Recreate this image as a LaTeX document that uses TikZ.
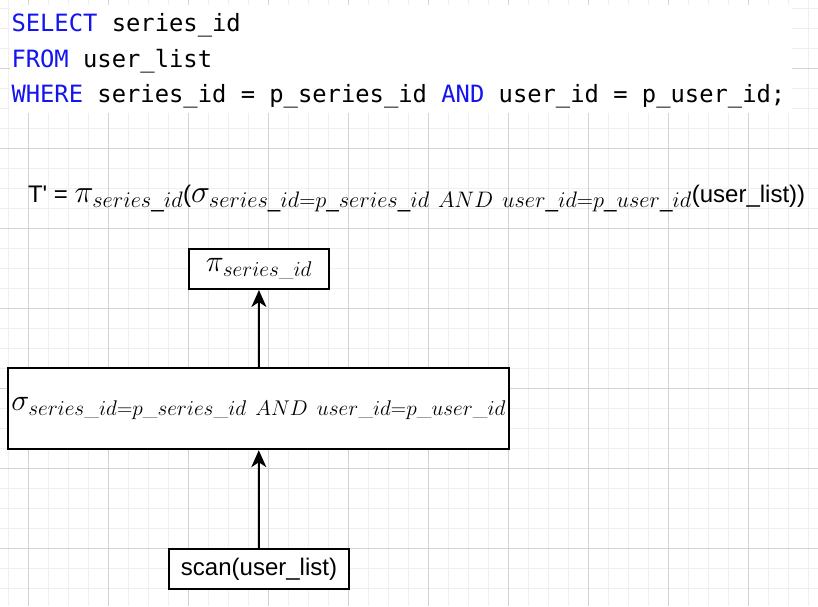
\RequirePackage{fix-cm}
\documentclass[tikz,border=0pt]{standalone}
\usepackage{amsmath}
\usepackage{fontspec}
\setmonofont{DejaVu Sans Mono}
\newfontfamily\helv{Liberation Sans}
\usetikzlibrary{arrows.meta}
\tikzset{
	opbox/.style={draw, fill=white, inner sep=0, minimum height=40pt},
	codeline/.style={anchor=base west, inner sep=0, font=\ttfamily\fontsize{23.8}{28}\selectfont},
	gridminor/.style={-, line width=1pt, draw=gridMinor},
	gridmajor/.style={-, line width=1pt, draw=gridMajor}
}
\definecolor{kwColor}{HTML}{1414F0}
\definecolor{gridMinor}{HTML}{EFEFEF}
\definecolor{gridMajor}{HTML}{D3D3D3}
\newcommand{\kw}[1]{\textcolor{kwColor}{#1}}
\newcommand{\mth}[2][30.4]{{\fontsize{#1}{36}\selectfont$#2$}}
\newcommand{\sid}{series\_id}
\newcommand{\uid}{user\_id}
\newcommand{\selcond}{\sid=p\_\sid\ AND\ \uid=p\_\uid}

\begin{document}
\begin{tikzpicture}[->,>={Stealth[length=17pt,width=15pt,inset=5pt]},x=1pt,y=-1pt,
					line width=2pt]
	\useasboundingbox (0,0) rectangle (818,606);
	\fill[white] (0,0) rectangle (818,606);
	\foreach \k in {0,...,40} \draw[gridminor] ({8.3+20*\k},0) -- ({8.3+20*\k},606);
	\foreach \k in {0,...,29} \draw[gridminor] (0,{8.3+20*\k}) -- (818,{8.3+20*\k});
	\foreach \k in {0,...,9} \draw[gridmajor] ({28.3+80*\k},0) -- ({28.3+80*\k},606);
	\foreach \k in {0,...,6} \draw[gridmajor] (0,{68.3+80*\k}) -- (818,{68.3+80*\k});
	\fill[white] (10,5) rectangle (792,113);
	\node[codeline] (sql1) at (10.5,31.5) {\kw{SELECT} series\_id};
	\node[codeline] (sql2) at (10.5,67) {\kw{FROM} user\_list};
	\node[codeline] (sql3) at (10.5,102.5) {\kw{WHERE} series\_id = p\_series\_id \kw{AND} user\_id = p\_user\_id;};
	\node[anchor=base west, inner sep=0, font=\helv\fontsize{24}{28}\selectfont] (formula) at (27,202.3)
		{T' = \mth[32]{\pi_{\sid}}(\mth[32]{\sigma_{\selcond}}(user\_list))};
	\node[opbox, minimum width=140pt] (proj) at (259,269) {\mth{\pi_{\sid}}};
	\node[opbox, minimum width=501pt, minimum height=81pt] (sel) at (258.7,408.7) {\mth{\sigma_{\selcond}}};
	\node[opbox, minimum width=180pt, font=\helv\fontsize{24}{28}\selectfont] (scan) at (259,569) {scan(user\_list)};
	%\path (proj) edge (formula);
	\path (sel) edge (proj);
	\path (scan) edge (sel);
\end{tikzpicture}
\end{document}
